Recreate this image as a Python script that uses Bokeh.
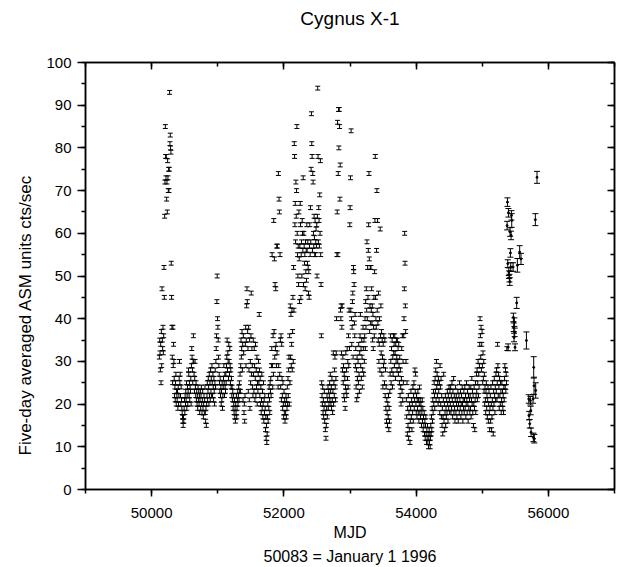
import numpy as np
from bokeh.plotting import figure
from bokeh.models import (Range1d, LinearAxis, SingleIntervalTicker, Whisker, TeeHead,
                          ColumnDataSource, Title, BasicTickFormatter, CustomJSTickFormatter)
from bokeh.embed import file_html
from bokeh.resources import INLINE

# ---------------- data ----------------
DENSE_START = 50117   # first five-day average (MJD)
DENSE_STEP = 5        # days per average
DENSE_ERR = 0.45      # typical 1-sigma error of a five-day average

dense_rate = [
    31,35,32,28,34,25,37,29,47,35,33,38,32,36,52,45,64,72,85,78,
    73,78,68,72,65,77,73,70,75,70,75,93,81,83,80,79,53,45,38,31,
    25,38,29,34,30,26,22,24,21,25,27,20,23,22,21,23,19,24,20,22,
    26,30,25,27,22,20,24,21,19,18,17,16,15,17,16,19,21,18,22,20,
    23,21,25,19,22,24,20,23,28,27,22,25,21,24,23,26,20,29,33,31,
    28,25,30,36,30,27,23,26,30,24,22,25,21,23,20,22,19,24,21,23,
    20,22,18,21,23,19,22,24,20,18,21,23,19,17,20,22,18,21,24,18,
    16,19,15,20,22,25,21,23,26,24,20,27,22,25,21,28,23,26,22,29,
    25,22,27,24,21,26,23,20,25,28,24,30,33,36,44,50,40,38,35,31,
    29,27,25,23,26,22,24,20,23,21,25,19,22,24,26,29,25,22,27,24,
    23,27,25,29,31,35,28,32,30,26,34,30,27,33,29,25,28,24,26,22,
    24,21,23,19,22,20,18,21,17,19,16,20,18,22,17,19,21,23,20,22,
    24,21,25,23,27,23,29,35,31,33,37,28,34,21,36,32,18,20,16,22,
    34,38,29,35,43,47,44,37,33,23,38,28,21,35,19,30,25,36,46,27,
    33,29,24,22,35,27,23,33,29,21,26,34,22,28,24,31,20,25,23,27,
    30,25,41,28,22,26,20,24,18,21,27,19,23,17,20,25,16,21,18,22,
    19,14,17,12,15,11,13,17,20,16,22,19,24,21,18,25,23,26,22,29,
    33,55,29,24,36,27,63,37,54,31,48,33,47,34,29,57,32,57,26,24,
    74,29,68,65,27,55,35,24,36,21,34,26,22,19,25,20,17,23,18,21,
    16,20,18,22,17,21,19,24,20,26,22,28,31,20,36,25,43,31,41,29,
    34,42,28,37,45,30,52,42,81,78,62,67,58,72,64,70,85,60,55,50,
    57,48,65,54,44,57,67,62,45,55,58,50,63,60,56,73,48,60,57,53,
    55,47,58,51,56,49,62,56,53,58,52,46,51,45,57,62,55,66,58,75,
    88,81,78,56,74,72,60,57,64,59,55,63,55,58,61,57,62,50,64,94,
    78,58,66,63,57,69,60,77,55,48,36,25,22,20,24,18,21,17,19,23,
    16,20,14,18,12,15,19,22,17,21,24,19,23,20,22,25,21,27,23,20,
    24,19,26,21,18,23,32,20,25,22,28,31,24,21,26,32,40,55,65,86,
    55,74,89,80,89,85,68,76,42,40,43,32,38,43,28,31,25,29,22,27,
    21,26,19,24,32,23,28,22,33,26,30,24,36,29,42,33,62,66,73,42,
    84,40,34,38,44,46,31,52,51,48,39,36,41,29,33,24,28,21,31,26,
    22,30,25,34,27,23,32,36,41,29,33,26,35,31,24,28,38,33,27,35,
    30,36,40,33,44,38,47,42,58,40,52,45,56,62,74,54,37,43,52,39,
    52,42,47,39,43,35,41,33,38,45,36,51,63,78,45,40,38,56,70,42,
    63,39,35,46,30,34,40,28,61,36,43,32,37,27,35,31,24,34,29,36,
    30,25,35,22,28,19,24,16,21,18,15,20,17,22,14,19,16,23,27,36,
    30,25,33,28,35,24,31,27,36,32,34,29,36,32,26,34,30,35,31,28,
    35,30,33,27,34,29,25,31,22,28,24,20,26,33,23,36,21,30,25,36,
    40,47,60,53,43,37,30,21,17,25,13,19,15,22,12,18,14,20,11,16,
    19,23,17,21,14,20,18,24,16,22,25,19,21,28,23,27,20,18,22,17,
    21,19,23,18,21,16,20,24,18,21,17,20,19,15,18,21,16,19,14,17,
    15,18,13,16,12,15,17,13,11,14,12,15,11,13,10,12,14,11,13,10,
    12,15,13,17,14,19,16,21,18,23,20,25,22,19,26,23,28,21,30,24,
    27,22,25,20,26,23,21,25,18,29,24,20,26,17,22,15,19,13,17,21,
    27,16,20,14,18,22,15,19,17,21,18,23,20,16,22,19,24,21,18,23,
    20,24,18,22,19,25,21,17,23,20,26,18,22,19,16,21,24,18,22,20,
    17,21,19,23,16,20,22,18,25,21,19,23,17,20,22,18,24,20,16,21,
    19,23,18,21,24,19,22,17,20,25,21,18,23,20,16,22,19,24,21,18,
    22,19,24,17,21,26,20,23,18,22,15,20,24,19,14,21,25,18,22,27,
    23,28,21,25,30,22,27,24,29,34,40,36,31,38,28,34,37,29,25,32,
    26,30,23,27,20,24,21,18,23,25,19,22,17,21,24,16,20,23,18,14,
    19,22,16,24,20,14,17,21,25,19,13,23,20,26,22,18,24,21,27,23,
    28,21,25,34,29,22,27,24,19,26,22,20,25,23,18,21,25,20,23,19,
    22,18,24,21,26,29,24,28,23,27,25,33,
]

late_mjd = [55376, 55381, 55386, 55391, 55396, 55401, 55406, 55411, 55416, 55421,
            55426, 55431, 55436, 55441, 55446, 55466, 55471, 55476, 55481, 55486,
            55491, 55496, 55521, 55531, 55566, 55586, 55668, 55703, 55708, 55718,
            55728, 55733, 55738, 55768, 55773, 55778, 55783, 55788, 55803, 55808,
            55828]
late_rate = [61.8, 67.3, 52.9, 33.3, 64.8, 51.0, 50.3, 49.5, 48.7, 60.3,
             55.4, 52.1, 59.5, 64.2, 63.0, 52.1, 40.3, 38.0, 35.6, 39.2,
             36.8, 33.3, 43.7, 52.5, 55.6, 54.0, 34.9, 21.2, 17.3, 15.4,
             20.8, 18.5, 13.4, 21.2, 12.2, 28.6, 24.3, 11.9, 63.2, 23.2,
             73.1]
late_err = [1.0, 1.0, 0.9, 0.8, 1.0, 0.9, 0.9, 0.9, 0.9, 1.0,
            1.0, 1.0, 1.0, 1.1, 1.6, 1.0, 1.0, 1.0, 1.0, 1.0,
            1.0, 0.8, 1.3, 1.6, 1.5, 1.3, 2.0, 1.0, 1.0, 1.0,
            1.0, 1.0, 1.0, 1.0, 1.0, 2.5, 2.0, 1.0, 1.4, 1.8,
            1.4]

TITLE = "Cygnus X-1"
X_LABEL = "MJD"
X_NOTE = "50083 = January 1 1996"
Y_LABEL = "Five-day averaged ASM units cts/sec"

# ---------------- figure ----------------
FONT = "Liberation Sans"

p = figure(width=616, height=566, output_backend="svg", toolbar_location=None,
           x_range=Range1d(49000, 57000), y_range=Range1d(0, 100),
           x_axis_type=None, y_axis_type=None,
           min_border_left=85, min_border_right=2, min_border_top=62, min_border_bottom=77)
p.background_fill_color = "white"
p.border_fill_color = "white"
p.outline_line_color = "black"
p.outline_line_width = 1.5

p.title.text = TITLE
p.title.align = "center"
p.title.text_font = FONT
p.title.text_font_size = "19px"
p.title.text_font_style = "normal"
p.title.text_color = "black"
p.title.standoff = 8


def style_axis(ax, labelled, inward):
    ax.axis_line_color = "black"
    ax.axis_line_width = 1.5
    ax.major_tick_line_color = "black"
    ax.major_tick_line_width = 1.5
    ax.minor_tick_line_color = "black"
    ax.minor_tick_line_width = 1.5
    if inward:
        ax.major_tick_in, ax.major_tick_out = 7, 0
        ax.minor_tick_in, ax.minor_tick_out = 4, 0
    else:
        ax.major_tick_in, ax.major_tick_out = 0, 7
        ax.minor_tick_in, ax.minor_tick_out = 0, 4
    if labelled:
        ax.major_label_text_font = FONT
        ax.major_label_text_font_size = "15px"
        ax.major_label_text_color = "black"
        ax.axis_label_text_font = FONT
        ax.axis_label_text_font_size = "16px"
        ax.axis_label_text_font_style = "normal"
        ax.axis_label_text_color = "black"
    else:
        ax.formatter = CustomJSTickFormatter(code="return ''")
        ax.major_label_standoff = 0
        ax.axis_label = None


def xticker():
    return SingleIntervalTicker(interval=2000, num_minor_ticks=2)


def yticker():
    return SingleIntervalTicker(interval=10, num_minor_ticks=2)


bottom = LinearAxis(ticker=xticker(), axis_label=X_LABEL,
                    formatter=BasicTickFormatter(use_scientific=False))
style_axis(bottom, True, False)
bottom.major_label_standoff = 11
bottom.axis_label_standoff = 3
p.add_layout(bottom, "below")

left = LinearAxis(ticker=yticker())
style_axis(left, True, False)
left.major_tick_out = 8
left.major_label_standoff = 6
p.add_layout(left, "left")

top = LinearAxis(ticker=xticker())
style_axis(top, False, True)
p.add_layout(top, "above")

# invisible spacer axis: only reserves room between the frame and the title
spacer = LinearAxis(ticker=xticker())
style_axis(spacer, False, False)
spacer.major_tick_out = 30
spacer.minor_tick_out = 0
spacer.axis_line_color = None
spacer.major_tick_line_color = None
spacer.minor_tick_line_color = None
p.add_layout(spacer, "above")

right = LinearAxis(ticker=yticker())
style_axis(right, False, True)
p.add_layout(right, "right")

p.add_layout(Title(text=X_NOTE, align="center", text_font=FONT,
                   text_font_size="16px", text_font_style="normal", text_color="black",
                   standoff=4), "below")

# y-axis label, placed as a side title so that it can sit where the reference has it
p.add_layout(Title(text=Y_LABEL, align="left", offset=34, text_font=FONT,
                   text_font_size="17px", text_font_style="normal", text_color="black",
                   standoff=18), "left")

# ---------------- error bars ----------------
dense_rate_a = np.array(dense_rate, dtype=float)
dense_mjd = DENSE_START + DENSE_STEP * np.arange(len(dense_rate_a))
dense_src = ColumnDataSource(dict(x=dense_mjd, y=dense_rate_a,
                                  upper=dense_rate_a + DENSE_ERR,
                                  lower=dense_rate_a - DENSE_ERR))
p.add_layout(Whisker(source=dense_src, base="x", upper="upper", lower="lower",
                     dimension="height", line_color="black", line_width=1,
                     upper_head=TeeHead(size=5, line_color="black", line_width=1),
                     lower_head=TeeHead(size=5, line_color="black", line_width=1)))

late_r = np.array(late_rate)
late_e = np.array(late_err)
late_src = ColumnDataSource(dict(x=late_mjd, y=late_r, upper=late_r + late_e, lower=late_r - late_e))
p.add_layout(Whisker(source=late_src, base="x", upper="upper", lower="lower",
                     dimension="height", line_color="black", line_width=1,
                     upper_head=TeeHead(size=6, line_color="black", line_width=1),
                     lower_head=TeeHead(size=6, line_color="black", line_width=1)))
p.scatter("x", "y", source=late_src, size=2, color="black")

open("out.html", "w").write(file_html(p, INLINE))
